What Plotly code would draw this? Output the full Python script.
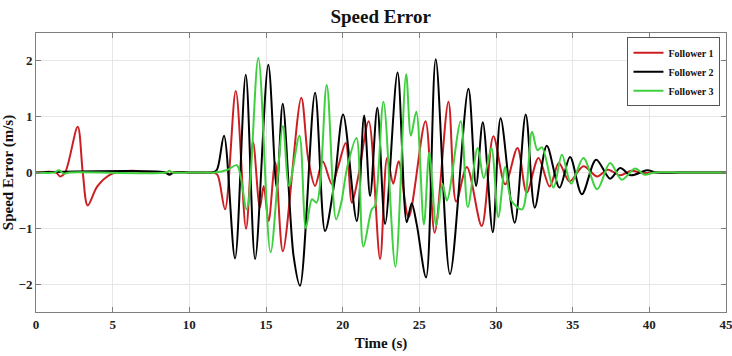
import plotly.graph_objects as go

# Follower 1 (red) - time / value of extrema
f1_t = [0, 1.3, 1.57, 1.9, 2.72, 3.05, 3.37, 4.0, 4.9, 6.3, 7.3, 8.5, 8.7, 8.9, 10.0, 11.0, 11.6, 11.85,
        12.33, 13.03, 13.7, 14.15, 14.6, 14.85, 15.17, 15.6, 16.1, 17.3, 17.75, 18.2, 18.7,
        19.3, 19.7, 20.2, 20.6, 21.0, 21.7, 22.44, 22.9, 23.3, 23.65, 24.3, 25.4, 26.0, 26.9,
        27.4, 28.1, 29.07, 29.83, 30.6, 31.4, 32.0, 32.77, 33.5, 34.1, 34.8, 35.7, 36.6,
        37.3, 38.1, 38.8, 39.6, 40.5, 42.0, 45]
f1_v = [0, 0, -0.07, 0.0, 0.82, 0, -0.59, -0.25, -0.03, 0.03, 0, 0, -0.03, 0, 0, 0, 0, -0.05,
        -0.66, 1.46, -1.01, 0.55, -0.63, -0.24, -0.87, 0.18, -1.41, 1.34, 0.25, -0.24, 0.2,
        -0.21, 0.1, 0.53, -0.54, -0.1, 0.92, -1.55, 0.26, -0.2, 0.2, -0.8, 0.92, -1.08, 1.27,
        -0.52, 0.1, -0.96, 0.65, -0.21, 0.44, -0.36, 0.26, -0.25, 0.17, -0.16, 0.11, -0.07,
        0.05, -0.05, 0.03, -0.01, 0, 0, 0]

# Follower 2 (black)
f2_t = [0, 8.4, 8.7, 9.0, 10.0, 11.0, 11.5, 11.8, 12.26, 12.98, 13.68, 14.29, 15.15, 15.7, 16.09, 16.8, 17.22,
        18.2, 18.85, 19.45, 20.03, 20.92, 21.4, 21.79, 22.26, 22.77, 23.58, 24.18, 24.5,
        24.83, 25.44, 26.07, 27.0, 28.2, 28.7, 29.14, 29.79, 30.3, 31.22, 31.94, 32.53,
        33.31, 34.14, 34.83, 35.6, 36.53, 37.44, 38.1, 38.79, 39.84, 40.5, 42.0, 45]
f2_v = [0, 0, -0.04, 0, 0, 0, 0, 0.05, 0.66, -1.54, 1.75, -1.55, 1.93, -0.27, 1.23, -1.5, -2.03,
        1.43, -1.05, -0.2, 1.04, -0.87, 1.02, -0.42, 1.16, -0.92, 1.79, -0.89, -0.55,
        -0.93, -1.88, 2.03, -1.82, 1.5, -0.24, 0.9, -1.07, 0.97, -0.9, 1.04, -0.63,
        0.48, -0.27, 0.28, -0.39, 0.23, -0.11, 0.08, -0.05, 0.04, 0, 0, 0]

# Follower 3 (green)
f3_t = [0, 1.2, 1.5, 1.8, 2.2, 8.5, 8.7, 8.9, 10.0, 11.0, 11.7, 12.5, 13.1, 13.74, 14.5, 15.3, 16.1,
        16.5, 17.18, 17.6, 18.0, 18.3, 18.96, 19.57, 19.9, 20.3, 20.9, 21.35, 21.9, 22.1,
        22.66, 23.44, 24.14, 24.45, 24.8, 25.3, 25.65, 26.1, 26.5, 26.8, 27.7, 28.16, 28.8,
        29.2, 29.7, 30.15, 30.6, 31.0, 31.7, 32.35, 32.7, 33.0, 33.75, 34.3, 34.9, 35.7,
        36.6, 37.44, 38.2, 39.07, 39.7, 40.3, 42.0, 45]
f3_v = [0, 0, 0.04, -0.02, 0, 0, 0.03, 0, 0, 0, 0, 0.05, 0.13, -0.66, 2.05, -1.43, 0.83,
        -0.24, 0.66, -1.0, -0.48, -0.54, 1.57, -0.84, -0.55, 0.1, 0.62, -1.33, -0.66, -0.6,
        1.27, -1.69, 1.76, 0.66, 1.09, -0.93, 0.36, -0.95, -0.2, -0.5, 0.92, -0.62, 0.44,
        -0.1, 0.44, -0.8, 0.1, -0.5, -0.66, 0.73, 0.4, 0.45, -0.27, 0.32, -0.2, 0.26,
        -0.3, 0.17, -0.13, 0.07, -0.04, 0, 0, 0]

x_ticks = [0, 5, 10, 15, 20, 25, 30, 35, 40, 45]
y_ticks = [-2, -1, 0, 1, 2]

FONT = "Liberation Serif"

fig = go.Figure()
series = [
    ("Follower 1", f1_t, f1_v, "#cc1f24"),
    ("Follower 2", f2_t, f2_v, "#000000"),
    ("Follower 3", f3_t, f3_v, "#3fd03f"),
]
for name, t, v, c in series:
    fig.add_trace(go.Scatter(x=t, y=v, mode="lines", name=name,
                             line=dict(color=c, width=2, shape="spline", smoothing=0.9)))

axis_common = dict(showgrid=True, gridcolor="#e6e6e6", gridwidth=1, zeroline=False,
                   showline=True, linecolor="#7f7f7f", linewidth=1, mirror="ticks",
                   ticks="inside", ticklen=5, tickcolor="#7f7f7f",
                   ticklabeloverflow="allow",
                   tickfont=dict(family=FONT, size=13, color="#222", weight="bold"))

fig.update_layout(
    width=732, height=356,
    margin=dict(l=36, r=6, t=33, b=44),
    paper_bgcolor="white", plot_bgcolor="white",
    title=dict(text="<b>Speed Error</b>", x=0.52, xanchor="center", y=0.955, yanchor="middle",
               font=dict(family=FONT, size=19, color="#111")),
    xaxis=dict(range=[0, 45], tickvals=x_ticks, automargin=False,
               title=dict(text="<b>Time (s)</b>", font=dict(family=FONT, size=15, color="#111"), standoff=6),
               **axis_common),
    yaxis=dict(range=[-2.5, 2.5], tickvals=y_ticks, automargin=False,
               title=dict(text="<b>Speed Error (m/s)</b>", font=dict(family=FONT, size=15, color="#111"), standoff=1),
               **axis_common),
    legend=dict(x=0.992, y=0.985, xanchor="right", yanchor="top",
                bgcolor="white", bordercolor="#555", borderwidth=1,
                font=dict(family=FONT, size=10, color="#111", weight="bold"),
                tracegroupgap=0, itemwidth=30),
    showlegend=True,
)

fig.write_html("out.html")
